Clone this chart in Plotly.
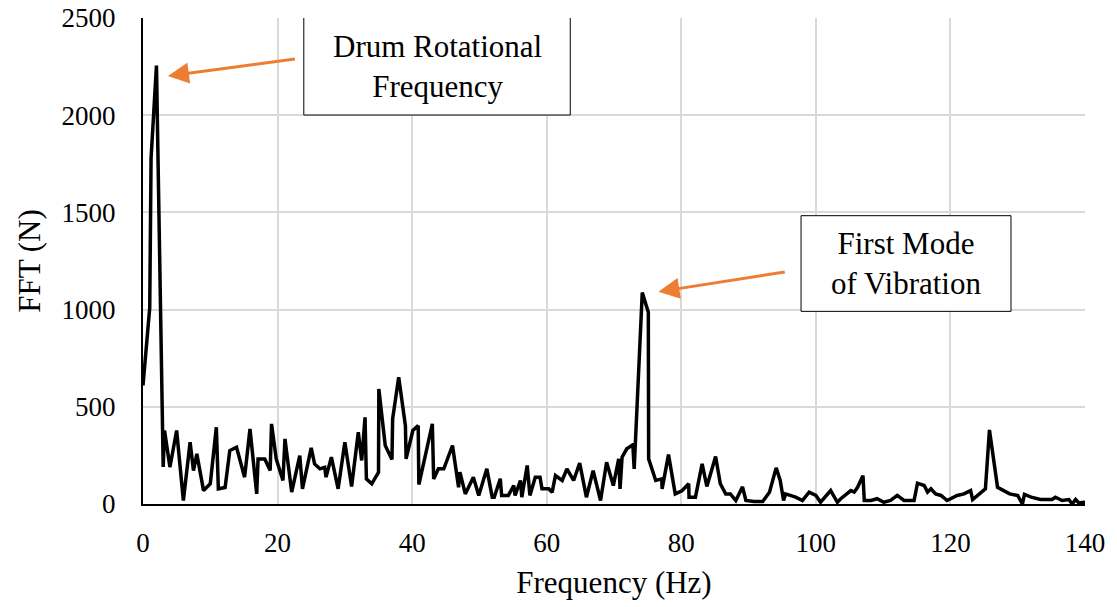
import plotly.graph_objects as go

# Frequency (Hz) and FFT amplitude (N)
freq_hz = [0, 1.0, 1.2, 2.0, 3.0, 3.2, 4.0, 5.0, 6.0, 7.0, 7.5, 8.0, 9.0, 10.0,
           10.9, 11.2, 12.2, 12.9, 13.9, 14.4, 15.1, 15.9, 16.9, 17.1, 18.1, 18.9,
           19.1, 19.8, 20.8, 21.1, 22.1, 22.8, 23.3, 23.7, 25.0, 25.5, 26.3, 27.0,
           27.2, 28.0, 29.0, 30.0, 31.0, 32.0, 32.5, 33.0, 33.2, 34.0, 35.0, 35.05,
           36.0, 37.0, 37.1, 38.0, 39.0, 39.1, 40.1, 40.9, 41.0, 41.9, 43.0, 43.2,
           43.9, 44.7, 46.0, 46.9, 47.1, 47.9, 49.1, 49.9, 51.1, 51.9, 52.2, 53.1,
           53.3, 54.3, 55.1, 55.3, 56.1, 56.3, 57.1, 57.5, 58.3, 59.0, 59.3, 60.3,
           60.8, 61.3, 62.3, 63.0, 64.0, 64.9, 65.9, 66.9, 68.0, 68.9, 69.9, 70.7,
           70.9, 71.2, 71.9, 72.8, 73.0, 74.2, 75.1, 75.15, 76.2, 77.1, 77.15, 78.1,
           79.1, 80.1, 81.1, 81.15, 82.1, 83.1, 83.8, 85.1, 85.8, 86.6, 87.3, 88.1,
           89.1, 89.6, 90.8, 92.1, 93.1, 94.1, 94.7, 95.2, 95.5, 97.0, 98.0, 99.0,
           100.0, 100.7, 102.2, 103.2, 103.7, 105.2, 105.7, 106.2, 107.0, 107.2,
           108.2, 109.1, 110.1, 111.1, 112.1, 113.1, 114.6, 115.1, 116.1, 116.6,
           117.1, 117.8, 118.6, 119.5, 121.0, 122.0, 123.0, 123.3, 125.0, 125.2,
           125.8, 127.0, 128.8, 130.0, 130.7, 131.0, 132.0, 132.7, 133.4, 134.4,
           135.1, 135.6, 136.6, 137.6, 138.1, 138.6, 139.1, 139.8, 140.3]

fft_n = [610, 1010, 1780, 2255, 190, 378, 190, 378, 18, 318, 172, 258, 69, 104,
         395, 78, 85, 275, 292, 224, 138, 386, 52, 232, 232, 172,
         412, 232, 121, 335, 61, 172, 249, 78, 289, 206, 181, 189,
         138, 241, 78, 318, 90, 369, 224, 446, 129, 104, 163, 592,
         301, 229, 438, 652, 403, 232, 378, 403, 100, 240, 412, 129,
         181, 181, 301, 86, 164, 52, 138, 44, 181, 35, 35, 130,
         44, 44, 95, 44, 121, 35, 198, 44, 138, 138, 78, 78,
         60, 146, 121, 181, 121, 210, 35, 172, 18, 215, 95, 232,
         78, 241, 284, 304, 181, 1088, 986, 232, 121, 129, 78, 254,
         52, 68, 104, 35, 35, 206, 90, 244, 104, 52, 52, 18,
         88, 18, 13, 13, 60, 186, 121, 18, 52, 35, 18, 61,
         44, 9, 69, 9, 27, 69, 61, 86, 146, 18,
         18, 27, 9, 18, 44, 18, 18, 107, 95, 61,
         78, 52, 44, 18, 44, 52, 69, 23, 69, 78,
         381, 86, 52, 44, 0, 49, 35, 30, 23, 23,
         23, 35, 18, 23, 0, 23, 5, 9, 5]

x_ticks = [0, 20, 40, 60, 80, 100, 120, 140]
y_ticks = [0, 500, 1000, 1500, 2000, 2500]

FONT = "Liberation Serif, Times New Roman, serif"
ORANGE = "#ED7D31"

fig = go.Figure()
fig.add_trace(go.Scatter(x=freq_hz, y=fft_n, mode="lines",
                         line=dict(color="black", width=3.5),
                         showlegend=False, hoverinfo="skip"))

# Text boxes
fig.add_shape(type="rect", xref="x", yref="y", x0=23.9, x1=63.5, y0=2001, y1=2505,
              line=dict(color="black", width=1), fillcolor="white", layer="above")
fig.add_shape(type="rect", xref="x", yref="y", x0=97.8, x1=129.0, y0=991, y1=1483,
              line=dict(color="black", width=1), fillcolor="white", layer="above")

fig.add_annotation(x=43.7, y=2250, xref="x", yref="y", showarrow=False,
                   text="Drum Rotational<br>Frequency",
                   font=dict(family=FONT, size=31, color="black"))
fig.add_annotation(x=113.4, y=1237, xref="x", yref="y", showarrow=False,
                   text="First Mode<br>of Vibration",
                   font=dict(family=FONT, size=31, color="black"))

# Arrows
fig.add_annotation(x=3.7, y=2202, ax=22.8, ay=2290, xref="x", yref="y",
                   axref="x", ayref="y", showarrow=True, text="",
                   arrowhead=2, arrowsize=1.4, arrowwidth=3, arrowcolor=ORANGE)
fig.add_annotation(x=76.6, y=1092, ax=95.6, ay=1195, xref="x", yref="y",
                   axref="x", ayref="y", showarrow=True, text="",
                   arrowhead=2, arrowsize=1.4, arrowwidth=3, arrowcolor=ORANGE)

fig.update_layout(
    width=1117, height=607,
    margin=dict(l=143, r=32, t=18, b=103),
    paper_bgcolor="white", plot_bgcolor="white",
    font=dict(family=FONT, size=27, color="black"),
    xaxis=dict(range=[0, 140], tickvals=x_ticks, showgrid=True,
               gridcolor="#d9d9d9", gridwidth=2, showline=True,
               linecolor="black", linewidth=2, zeroline=False,
               ticks="", ticklabelstandoff=14, automargin=False,
               title=dict(text="Frequency (Hz)", standoff=14,
                          font=dict(family=FONT, size=31))),
    yaxis=dict(range=[0, 2500], tickvals=y_ticks, showgrid=True,
               gridcolor="#d9d9d9", gridwidth=2, showline=True,
               linecolor="black", linewidth=2, zeroline=False,
               ticks="", ticklabelstandoff=20, automargin=False,
               title=dict(text="FFT (N)", standoff=12,
                          font=dict(family=FONT, size=31))),
)

fig.write_html("out.html")
